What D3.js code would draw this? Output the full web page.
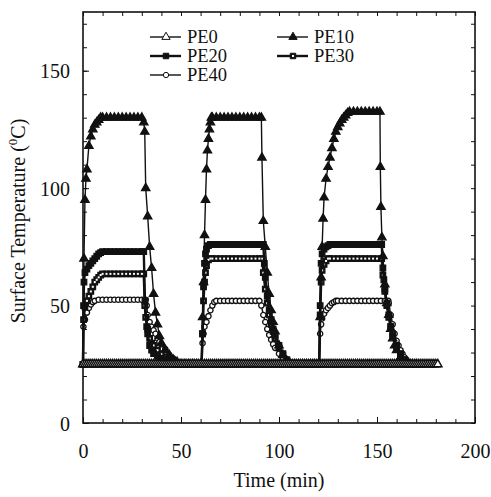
<!DOCTYPE html>
<html><head><meta charset="utf-8">
<script src="https://cdn.jsdelivr.net/npm/d3@7"></script>
<style>
body{margin:0;background:#fff;}
</style></head>
<body>
<svg id="chart" width="491" height="497"></svg>
<script>
// ---------- data (time in min, temperature in °C) ----------
const seriesNames = ["PE0","PE10","PE20","PE30","PE40"];
const xTicks = [0,50,100,150,200];
const yTicks = [0,50,100,150];

const pe0 = [[0,25],[1,25],[2,25],[3,25],[4,25],[5,25],[6,25],[7,25],[8,25],[9,25],[10,25],[11,25],[12,25],[13,25],[14,25],[15,25],[16,25],[17,25],[18,25],[19,25],[20,25],[21,25],[22,25],[23,25],[24,25],[25,25],[26,25],[27,25],[28,25],[29,25],[30,25],[31,25],[32,25],[33,25],[34,25],[35,25],[36,25],[37,25],[38,25],[39,25],[40,25],[41,25],[42,25],[43,25],[44,25],[45,25],[46,25],[47,25],[48,25],[49,25],[50,25],[51,25],[52,25],[53,25],[54,25],[55,25],[56,25],[57,25],[58,25],[59,25],[60,25],[61,25],[62,25],[63,25],[64,25],[65,25],[66,25],[67,25],[68,25],[69,25],[70,25],[71,25],[72,25],[73,25],[74,25],[75,25],[76,25],[77,25],[78,25],[79,25],[80,25],[81,25],[82,25],[83,25],[84,25],[85,25],[86,25],[87,25],[88,25],[89,25],[90,25],[91,25],[92,25],[93,25],[94,25],[95,25],[96,25],[97,25],[98,25],[99,25],[100,25],[101,25],[102,25],[103,25],[104,25],[105,25],[106,25],[107,25],[108,25],[109,25],[110,25],[111,25],[112,25],[113,25],[114,25],[115,25],[116,25],[117,25],[118,25],[119,25],[120,25],[121,25],[122,25],[123,25],[124,25],[125,25],[126,25],[127,25],[128,25],[129,25],[130,25],[131,25],[132,25],[133,25],[134,25],[135,25],[136,25],[137,25],[138,25],[139,25],[140,25],[141,25],[142,25],[143,25],[144,25],[145,25],[146,25],[147,25],[148,25],[149,25],[150,25],[151,25],[152,25],[153,25],[154,25],[155,25],[156,25],[157,25],[158,25],[159,25],[160,25],[161,25],[162,25],[163,25],[164,25],[165,25],[166,25],[167,25],[168,25],[169,25],[170,25],[171,25],[172,25],[173,25],[174,25],[175,25],[176,25],[177,25],[178,25],[179,25],[180,25],[181,25]];

const pe10 = [[0,25],[0.5,70],[1,95],[1.5,104],[2,108],[3,118],[4,122],[5,125],[6,127],[7,128],[8,129],[9,130],[10,130],[12,130],[14,130],[16,130],[18,130],[20,130],[22,130],[24,130],[26,130],[28,130],[30,130],[31,128],[31.5,124],[32,100],[33,88],[34,75],[35,66],[36,55],[37,47],[38,42],[39,37],[40,34],[42,31],[44,29],[46,27],[48,26],[50,25],[52,25],[54,25],[56,25],[58,25],[60,25],
[60.5,25],[61,45],[61.5,60],[62,80],[62.5,95],[63,108],[63.5,116],[64,121],[64.5,125],[65,128],[65.5,130],[66,130],[68,130],[70,130],[72,130],[74,130],[76,130],[78,130],[80,130],[82,130],[84,130],[86,130],[88,130],[90,130],[91,130],[91.3,113],[92,86],[93,75],[94,64],[95,55],[96,48],[97,43],[98,39],[100,33],[102,29],[104,26.5],[106,25],[108,25],[110,25],[112,25],[114,25],[116,25],[118,25],[120,25],
[120.5,25],[121,45],[121.5,62],[122,75],[122.5,87],[123,96],[124,104],[125,109],[126,113],[127,117],[128,121],[129,124],[130,126],[131,127.5],[132,129],[133,130],[134,131],[135,132],[136,132.5],[138,132.5],[140,132.5],[142,132.5],[144,132.5],[146,132.5],[148,132.5],[150,132.5],[151.5,132.5],[151.7,109],[152,92],[152.5,79],[153,71],[154,59],[155,51],[156,46],[157,40],[158,36],[159,33],[160,31],[162,28],[164,26],[166,25],[168,25],[170,25]];

const pe20 = [[0,25],[0.3,50],[0.5,60],[1,64],[2,65.5],[3,67],[4,68],[5,69],[6,70],[7,71],[8,72],[9,72.5],[10,73],[12,73],[14,73],[16,73],[18,73],[20,73],[22,73],[24,73],[26,73],[28,73],[30,73],[31,73],[31.6,52],[32.5,41],[33,38],[34,33],[35,31],[36,29.5],[38,28.4],[40,27.5],[42,26.8],[44,26.2],[46,25.5],[48,25],[50,25],[54,25],[58,25],
[60.5,25],[61,38],[61.5,58],[62,68],[62.5,72],[63,74],[64,75.5],[65,76],[66,76],[68,76],[70,76],[72,76],[74,76],[76,76],[78,76],[80,76],[82,76],[84,76],[86,76],[88,76],[90,76],[92,76],[92.5,68],[93,62],[94,54],[95,48],[96,44],[97,40],[98,37],[100,33],[102,29.5],[104,27],[106,25.5],[108,25],[112,25],[116,25],[120,25],
[120.5,25],[121,50],[121.5,68],[122,72],[123,74],[124,75],[125,75.5],[126,76],[128,76],[130,76],[132,76],[134,76],[136,76],[138,76],[140,76],[142,76],[144,76],[146,76],[148,76],[150,76],[152.4,76],[153,66],[153.5,61],[154,57],[155,51],[156,46],[157,41],[158,37],[160,32.5],[162,29],[164,26.5],[166,25],[170,25]];

const pe30 = [[0,25],[0.3,44],[1,49.5],[2,52],[3,54],[4,56],[5,58],[6,60],[7,61],[8,62],[9,63],[10,63.5],[12,63.5],[14,63.5],[16,63.5],[18,63.5],[20,63.5],[22,63.5],[24,63.5],[26,63.5],[28,63.5],[30,63.5],[31,63.5],[31.5,50],[32,45],[33,40],[34,36],[35,34],[36,33],[38,31],[40,29.5],[42,28.2],[44,27],[46,26.2],[48,25.5],[50,25],[54,25],[58,25],
[60.5,25],[61,38],[61.5,52],[62,60],[62.5,64],[63,67],[64,69.5],[65,70],[66,70],[68,70],[70,70],[72,70],[74,70],[76,70],[78,70],[80,70],[82,70],[84,70],[86,70],[88,70],[90,70],[91.5,70],[92,64],[93,57],[94,51],[95,46],[96,42],[97,39],[98,36],[100,32],[102,29],[104,26.5],[106,25],[110,25],[115,25],[120,25],
[120.5,25],[121,46],[121.5,60],[122,65],[123,67.5],[124,69],[125,70],[126,70],[128,70],[130,70],[132,70],[134,70],[136,70],[138,70],[140,70],[142,70],[144,70],[146,70],[148,70],[150,70],[152.4,70],[153,63],[154,56],[155,50],[156,45],[157,41],[158,38],[160,33],[162,29.5],[164,27],[166,25.5],[168,25],[172,25]];

const pe40 = [[0,25],[0.2,41],[1,44],[2,47],[3,49],[4,50.5],[5,51.5],[6,52],[8,52.5],[10,52.5],[12,52.5],[14,52.5],[16,52.5],[18,52.5],[20,52.5],[22,52.5],[24,52.5],[26,52.5],[28,52.5],[30,52.5],[32,52.5],[32.5,50],[33,46],[34,43],[35,41],[36,39.5],[37,38],[38,36],[39,34.5],[40,33.5],[42,31.5],[44,29],[46,27.5],[48,25.5],[50,25],[54,25],[58,25],
[60.5,25],[61,34],[61.5,38],[62,41],[63,43],[64,45.5],[65,48],[66,50],[67,51.5],[68,52],[70,52],[72,52],[74,52],[76,52],[78,52],[80,52],[82,52],[84,52],[86,52],[88,52],[90,52],[91,50],[92,46],[93,43],[94,40],[95,37.5],[96,35.5],[97,33.5],[98,32],[100,29.5],[102,27.5],[104,26],[106,25],[110,25],[115,25],[120,25],
[120.5,25],[121,38],[121.5,42],[122,44.5],[123,46.5],[124,48],[125,49],[126,50],[127,51],[128,51.5],[129,52],[130,52],[132,52],[134,52],[136,52],[138,52],[140,52],[142,52],[144,52],[146,52],[148,52],[150,52],[152,52],[154,52],[155.8,52],[156,51],[157,46],[158,42],[159,38],[160,35],[161,33],[162,31],[163,29.5],[164,28],[165,27],[166,26],[167,25.5],[168,25],[172,25]];

// ---------- layout ----------
const FONT = "Liberation Serif";
const svg = d3.select("#chart");
const L = 83, R = 475, T = 12, B = 423;
const x = d3.scaleLinear().domain([0,200]).range([L,R]);
const y = d3.scaleLinear().domain([0,175]).range([B,T]);

const styles = {
  PE0:  {data:pe0,  sym:d3.symbolTriangle, size:30, fill:"#fff", lw:1.4, ms:1.5, inner:false},
  PE10: {data:pe10, sym:d3.symbolTriangle, size:30, fill:"#111", lw:1.4, ms:1.3, inner:false},
  PE20: {data:pe20, sym:d3.symbolSquare,   size:30, fill:"#111", lw:2.4, ms:1.3, inner:false},
  PE30: {data:pe30, sym:d3.symbolSquare,   size:30, fill:"#111", lw:2.4, ms:1.3, inner:true},
  PE40: {data:pe40, sym:d3.symbolCircle,   size:22, fill:"#fff", lw:1.4, ms:1.3, inner:false}
};

// axes (ticks inward on all four sides)
function styleAxis(g){
  g.attr("font-family",FONT);
  g.select(".domain").remove();
  g.selectAll("line").attr("stroke","#111").attr("stroke-width",1);
  g.selectAll("text").attr("fill","#111").attr("font-family",FONT);
}
svg.append("g").attr("transform",`translate(0,${B})`)
  .call(d3.axisBottom(x).tickValues(d3.range(0,201,10)).tickSize(-4).tickFormat("")).call(styleAxis);
svg.append("g").attr("transform",`translate(0,${B})`)
  .call(d3.axisBottom(x).tickValues(xTicks).tickSize(-6).tickFormat(d3.format("d")))
  .call(styleAxis)
  .call(g=>g.selectAll("text").attr("font-size",20).attr("dy",0).attr("y",35));
svg.append("g").attr("transform",`translate(0,${T})`)
  .call(d3.axisTop(x).tickValues(d3.range(0,201,10)).tickSize(-4).tickFormat("")).call(styleAxis);
svg.append("g").attr("transform",`translate(${L},0)`)
  .call(d3.axisLeft(y).tickValues(d3.range(0,176,10)).tickSize(-4).tickFormat("")).call(styleAxis);
svg.append("g").attr("transform",`translate(${L},0)`)
  .call(d3.axisLeft(y).tickValues(yTicks).tickSize(-6).tickFormat(d3.format("d")))
  .call(styleAxis)
  .call(g=>g.selectAll("text").attr("font-size",20).attr("x",-13).attr("dy","0.35em"));
svg.append("g").attr("transform",`translate(${R},0)`)
  .call(d3.axisRight(y).tickValues(d3.range(0,176,10)).tickSize(-4).tickFormat("")).call(styleAxis);

svg.append("rect").attr("x",L).attr("y",T).attr("width",R-L).attr("height",B-T)
  .attr("fill","none").attr("stroke","#111").attr("stroke-width",1.6);

// series
const line = d3.line().x(d=>x(d[0])).y(d=>y(d[1]));
const drawOrder = ["PE40","PE30","PE20","PE10","PE0"];
drawOrder.forEach(name=>{
  const s = styles[name];
  const g = svg.append("g");
  g.append("path").attr("d",line(s.data)).attr("fill","none").attr("stroke","#111").attr("stroke-width",s.lw);
  const sym = d3.symbol().type(s.sym).size(s.size);
  g.selectAll("path.m").data(s.data).join("path").attr("class","m")
    .attr("transform",d=>`translate(${x(d[0])},${y(d[1])})`)
    .attr("d",sym).attr("fill",s.fill).attr("stroke","#111").attr("stroke-width",s.ms);
  if(s.inner){
    g.selectAll("rect.c").data(s.data).join("rect").attr("class","c")
      .attr("x",d=>x(d[0])-1).attr("y",d=>y(d[1])-1).attr("width",2).attr("height",2).attr("fill","#fff");
  }
});

// legend
const legendPos = {PE0:[150,37],PE10:[277,37],PE20:[150,56],PE30:[277,56],PE40:[150,75]};
seriesNames.forEach(name=>{
  const s = styles[name]; const [lx,ly] = legendPos[name];
  const g = svg.append("g");
  g.append("line").attr("x1",lx).attr("x2",lx+31).attr("y1",ly).attr("y2",ly)
    .attr("stroke","#111").attr("stroke-width",s.lw);
  g.append("path").attr("transform",`translate(${lx+16},${ly})`)
    .attr("d",d3.symbol().type(s.sym).size(s.size)).attr("fill",s.fill).attr("stroke","#111").attr("stroke-width",1);
  if(s.inner) g.append("rect").attr("x",lx+15).attr("y",ly-1).attr("width",2).attr("height",2).attr("fill","#fff");
  g.append("text").attr("x",lx+37).attr("y",ly+6).attr("font-size",18.5).attr("font-family",FONT).attr("fill","#111").text(name);
});

// axis titles
svg.append("text").attr("x",(L+R)/2).attr("y",487).attr("text-anchor","middle").attr("font-size",20)
  .attr("font-family",FONT).attr("fill","#111").text("Time (min)");
const yt = svg.append("text").attr("transform","translate(25,221) rotate(-90)").attr("text-anchor","middle")
  .attr("font-size",20).attr("font-family",FONT).attr("fill","#111");
yt.append("tspan").text("Surface Temperature (");
yt.append("tspan").attr("font-size",13).attr("dy",-8).text("0");
yt.append("tspan").attr("dy",8).text("C)");
</script>
</body></html>
